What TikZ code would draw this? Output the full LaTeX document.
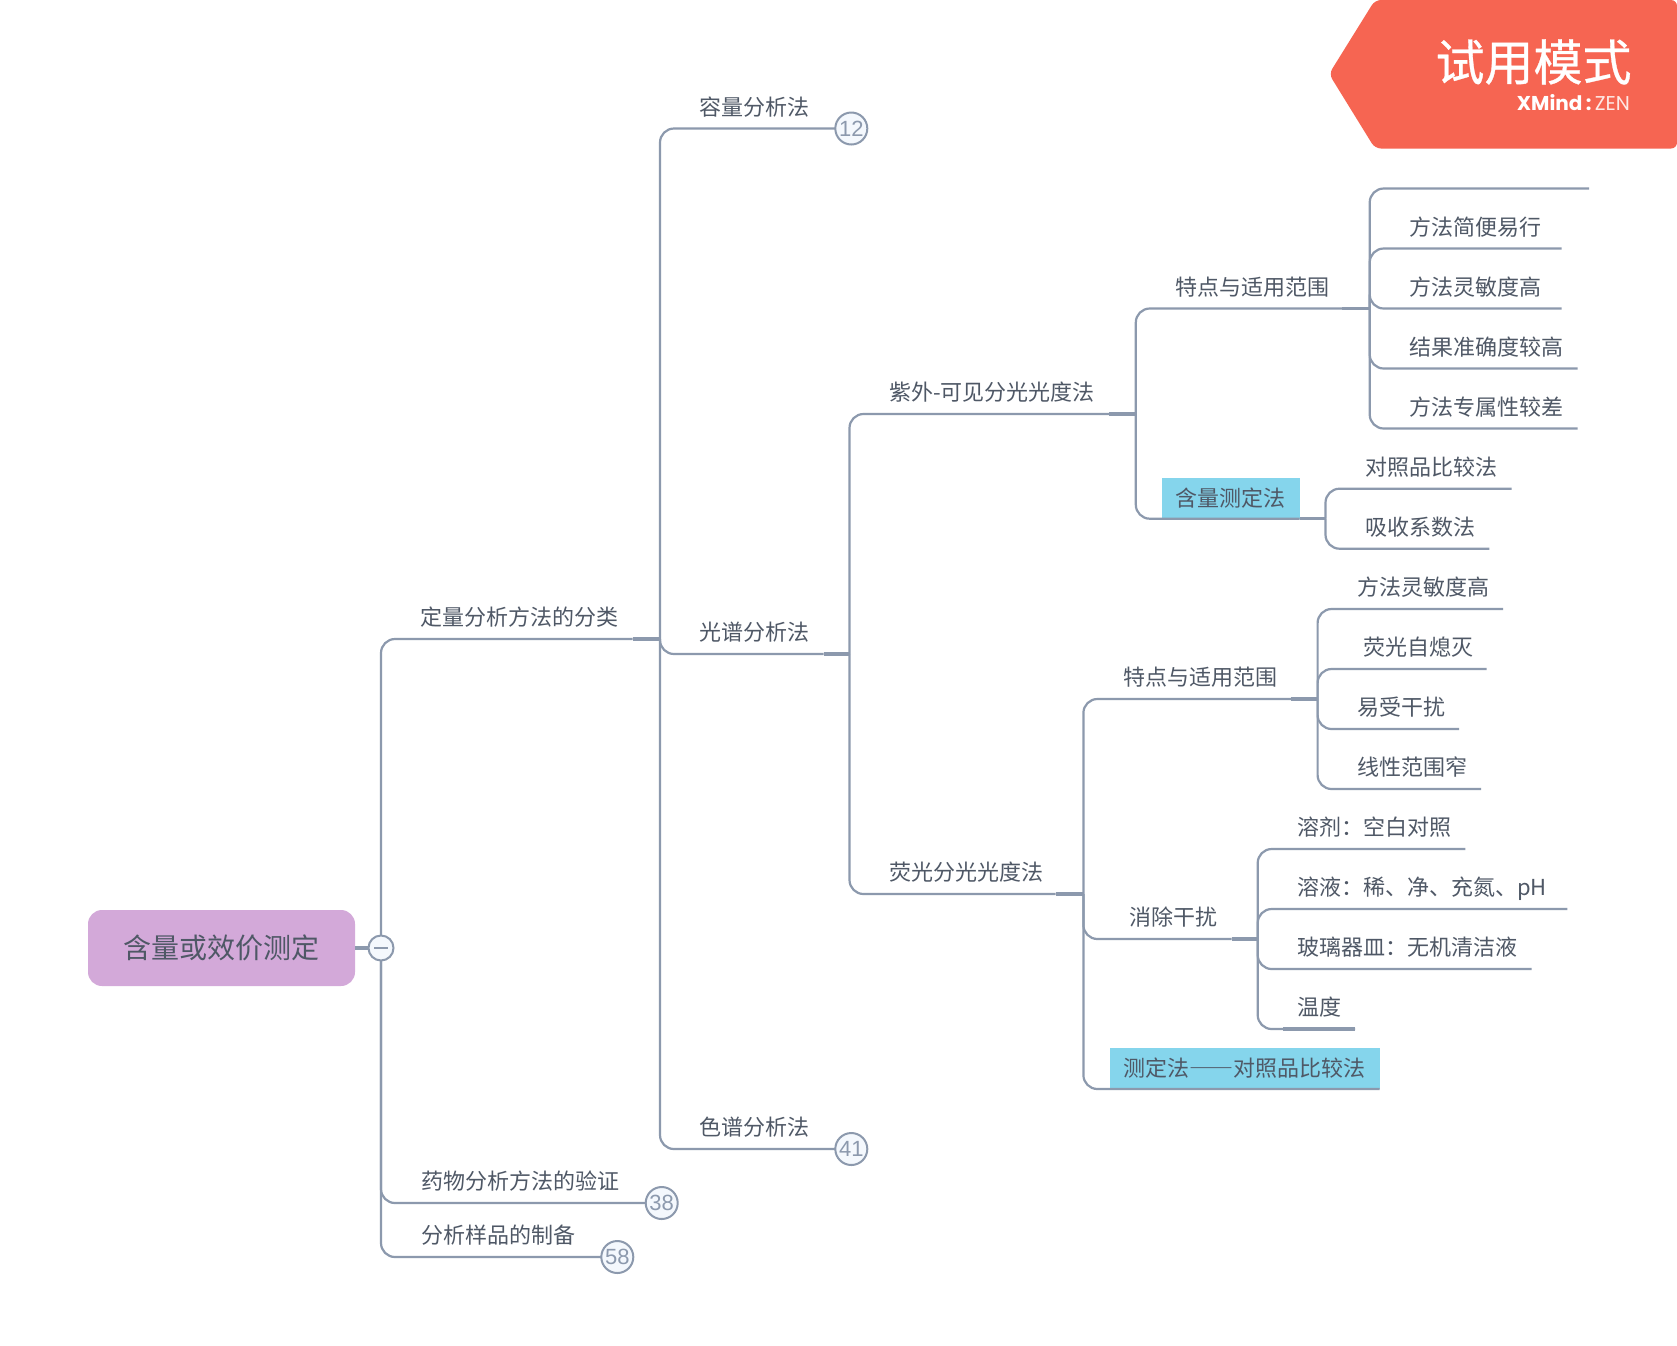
\documentclass[tikz,border=0pt]{standalone}
\usepackage{fontspec}
\setmainfont{Noto Sans CJK SC}
\newfontfamily\brandfont{Poppins}
\newfontfamily\trialfont[FakeBold=0.6]{Noto Sans CJK SC}
\newfontfamily\numfont{Liberation Sans}
\usetikzlibrary{positioning}
\definecolor{linegray}{HTML}{8C99AD}
\definecolor{inkgray}{HTML}{4F5866}
\definecolor{bluefill}{HTML}{85D5EC}
\definecolor{rootfill}{HTML}{D3A9D9}
\definecolor{badgered}{HTML}{F66552}
\definecolor{circfill}{HTML}{F4F8FD}

\begin{document}
\begin{tikzpicture}[
  x=1pt,y=-1pt,
  node distance=16pt,
  every node/.style={outer sep=0pt,text=inkgray},
  topic/.style={anchor=south west,inner xsep=0pt,inner ysep=0pt,minimum height=44pt,
                text height=19.9pt,text depth=2.1pt,font=\fontsize{22}{26}\selectfont},
  bluetopic/.style={anchor=south west,fill=bluefill,inner xsep=14pt,inner ysep=0pt,minimum height=41pt,
                text height=19.2pt,text depth=2.8pt,font=\fontsize{22}{26}\selectfont},
  under/.style={below=of #1.south west,anchor=north west},
  rootbox/.style={fill=rootfill,rounded corners=14pt,minimum width=267pt,minimum height=76pt,
                  font=\fontsize{28}{32}\selectfont},
  badge/.style={circle,draw=linegray,fill=circfill,line width=2pt,minimum size=32pt,inner sep=0pt,
                text=linegray,font=\fontsize{22}{24}\numfont},
  link/.style={draw=linegray,line width=2.2pt,rounded corners=14pt},
  stub/.style={draw=linegray,line width=3.2pt}
]
\path[use as bounding box,fill=white] (0,0) rectangle (1677,1345);

% trial mark
\fill[badgered,rounded corners=6pt] (1375,0) -- (1677,0) -- (1677,148.5) -- (1375,148.5) -- (1329,74) -- cycle;
\node[text=white,font=\fontsize{49}{54}\trialfont,inner sep=0pt] (trial) at (1533.5,62) {试用模式};
\node[text=white,anchor=east,inner sep=0pt,font=\fontsize{20}{24}\brandfont] (brand) at (1630,103) {\textbf{XMind}\,\textbf{:}\,\textcolor{white!85!badgered}{ZEN}};

% root
\node[rootbox] (root) at (221.5,948) {含量或效价测定};
\node[badge,minimum size=25pt] (fold) at (381,948) {\textcolor{linegray}{\rule{14pt}{1.6pt}}};

% first level
\node[topic,text width=212pt] (kinds) at (420.5,639) {定量分析方法的分类};
\node[topic,text width=200pt] (verify) at (421,1203) {药物分析方法的验证};
\node[topic,text width=156pt] (prep) at (421,1257) {分析样品的制备};
\node[badge] (n38) at (661.7,1203) {38};
\node[badge] (n58) at (617.3,1257) {58};

% second level
\node[topic,text width=112pt] (volume) at (699.5,128.5) {容量分析法};
\node[topic,text width=124pt] (spectro) at (699.5,654) {光谱分析法};
\node[topic,text width=112pt] (chroma) at (699.5,1149) {色谱分析法};
\node[badge] (n12) at (851.3,128.5) {12};
\node[badge] (n41) at (851.3,1149) {41};

% uv branch
\node[topic,text width=220pt] (uv) at (889,414) {紫外-可见分光光度法};
\node[topic,text width=167pt] (uvf) at (1175,308.5) {特点与适用范围};
\node[bluetopic] (uvm) at (1161.5,518.7) {含量测定法};
\node[topic,text width=179.5pt] (uvf0) at (1409.5,188.5) {};
\node[topic,under=uvf0,text width=152pt] (uvf1) {方法简便易行};
\node[topic,under=uvf1,text width=152pt] (uvf2) {方法灵敏度高};
\node[topic,under=uvf2,text width=168pt] (uvf3) {结果准确度较高};
\node[topic,under=uvf3,text width=168pt] (uvf4) {方法专属性较差};
\node[topic,text width=146.7pt] (uvm1) at (1365,488.7) {对照品比较法};
\node[topic,under=uvm1,text width=124.3pt] (uvm2) {吸收系数法};

% fluorescence branch
\node[topic,text width=166.6pt] (flu) at (889,894) {荧光分光光度法};
\node[topic,text width=168pt] (fluf) at (1123,699) {特点与适用范围};
\node[topic,text width=102.7pt] (flue) at (1129,939) {消除干扰};
\node[bluetopic] (flum) at (1109.6,1089) {测定法{\addfontfeature{RawFeature=+fwid}——}对照品比较法};
\node[topic,text width=146pt] (fluf1) at (1357,609) {方法灵敏度高};
\node[topic,under=fluf1,text width=129.6pt] (fluf2) {\hspace*{6pt}荧光自熄灭};
\node[topic,under=fluf2,text width=102pt] (fluf3) {易受干扰};
\node[topic,under=fluf3,text width=124pt] (fluf4) {线性范围窄};
\node[topic,text width=168.3pt] (flue1) at (1297,849) {溶剂：空白对照};
\node[topic,under=flue1,text width=270.4pt] (flue2) {溶液：稀、净、充氮、pH};
\node[topic,under=flue2,text width=234.5pt] (flue3) {玻璃器皿：无机清洁液};
\node[topic,under=flue3,text width=58pt] (flue4) {温度};

% connectors
\draw[stub] (root) -- (fold);
\foreach \leaf in {n38,n58}
  \draw[link] (fold) |- (\leaf);
\draw[link] (fold) |- (kinds.south east);
\draw[stub] (kinds.south east) -- ++(27.5,0) coordinate (kindsj);
\foreach \leaf in {n12,n41}
  \draw[link] (kindsj) |- (\leaf);
\draw[link] (kindsj) |- (spectro.south east);
\draw[stub] (spectro.south east) -- ++(26,0) coordinate (spectroj);
\foreach \leaf in {uv,flu}
  \draw[link] (spectroj) |- (\leaf.south east);
\draw[stub] (uv.south east) -- ++(26.8,0) coordinate (uvj);
\foreach \leaf in {uvf,uvm}
  \draw[link] (uvj) |- (\leaf.south east);
\draw[stub] (uvf.south east) -- ++(27.7,0) coordinate (uvfj);
\foreach \leaf in {uvf0,uvf1,uvf2,uvf3,uvf4}
  \draw[link] (uvfj) |- (\leaf.south east);
\draw[stub] (uvm.south east) -- ++(26,0) coordinate (uvmj);
\foreach \leaf in {uvm1,uvm2}
  \draw[link] (uvmj) |- (\leaf.south east);
\draw[stub] (flu.south east) -- ++(27.8,0) coordinate (fluj);
\foreach \leaf in {fluf,flue,flum}
  \draw[link] (fluj) |- (\leaf.south east);
\draw[stub] (fluf.south east) -- ++(26.6,0) coordinate (flufj);
\foreach \leaf in {fluf1,fluf2,fluf3,fluf4}
  \draw[link] (flufj) |- (\leaf.south east);
\draw[stub] (flue.south east) -- ++(26,0) coordinate (fluej);
\foreach \leaf in {flue1,flue2,flue3,flue4}
  \draw[link] (fluej) |- (\leaf.south east);
\draw[stub] ([xshift=-14pt]flue4.south west) -- (flue4.south east);
\end{tikzpicture}
\end{document}
